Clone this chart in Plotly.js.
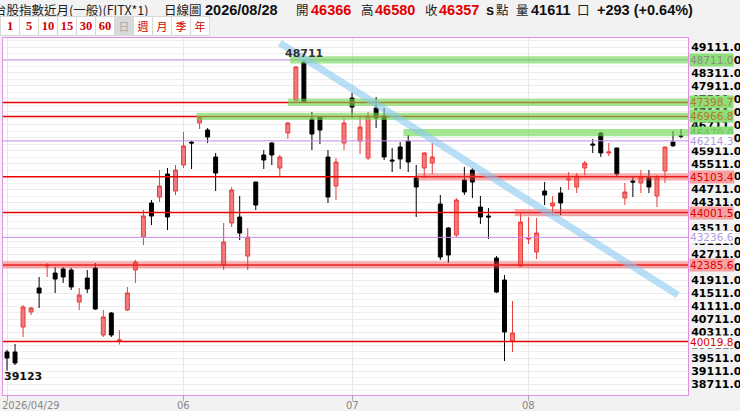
<!DOCTYPE html>
<html>
<head>
<meta charset="utf-8">
<script src="https://cdn.plot.ly/plotly-3.0.1.min.js"></script>
<style>
html,body{margin:0;padding:0;background:#f2f2f2;width:740px;height:411px;overflow:hidden;}
#chart{position:absolute;left:0;top:0;width:740px;height:411px;}
#hdr{position:absolute;left:0;top:0;width:740px;height:36px;z-index:5;pointer-events:none;}
#hdr span{position:absolute;top:1px;line-height:18px;white-space:nowrap;}
.cj{font-family:"Noto Sans CJK TC","Noto Sans";font-size:12.5px;color:#222;}
.nb{font-family:"Liberation Sans",Arial;font-weight:bold;font-size:14.5px;color:#111;}
.rd{color:#e00000 !important;}
.btn{position:absolute;top:16px;height:18px;width:18px;border:1px solid #d8d8d8;background:#fff;color:#d00000;
 font-family:"Liberation Serif","Noto Sans CJK TC";font-weight:bold;font-size:12.5px;line-height:18px;text-align:center;}
.btn.sel{background:#d9d9d9;color:#aaa;font-weight:normal;}
.btn.cjk{font-family:"Noto Sans CJK TC";font-weight:normal;font-size:11px;}
</style>
</head>
<body>
<div id="chart"></div>
<div id="hdr"></div>
<script>
// ---------- data ----------
const dates = [
 '2026/04/29','2026/04/30',
 '2026/05/04','2026/05/05','2026/05/06','2026/05/07','2026/05/08',
 '2026/05/11','2026/05/12','2026/05/13','2026/05/14','2026/05/15',
 '2026/05/18','2026/05/19','2026/05/20','2026/05/21','2026/05/22',
 '2026/05/25','2026/05/26','2026/05/27','2026/05/28','2026/05/29',
 '2026/06/01','2026/06/02','2026/06/03','2026/06/04','2026/06/05',
 '2026/06/08','2026/06/09','2026/06/10','2026/06/11','2026/06/12',
 '2026/06/15','2026/06/16','2026/06/17','2026/06/18',
 '2026/06/22','2026/06/23','2026/06/24','2026/06/25','2026/06/26',
 '2026/06/29','2026/06/30',
 '2026/07/01','2026/07/02','2026/07/03',
 '2026/07/06','2026/07/07','2026/07/08','2026/07/09','2026/07/10',
 '2026/07/13','2026/07/14','2026/07/15','2026/07/16','2026/07/17',
 '2026/07/20','2026/07/21','2026/07/22','2026/07/23','2026/07/24',
 '2026/07/27','2026/07/28','2026/07/29','2026/07/30',
 '2026/08/03','2026/08/04','2026/08/05','2026/08/06','2026/08/07',
 '2026/08/10','2026/08/11','2026/08/12','2026/08/13','2026/08/14',
 '2026/08/17','2026/08/18','2026/08/19','2026/08/20','2026/08/21',
 '2026/08/24','2026/08/25','2026/08/26','2026/08/27','2026/08/28'
];
const open  = [39699,39699,40470,40933,41674,42352,42136,42260,42229,41242,41982,42291,40223,40902,40038,40995,42229,43247,44297,44482,45192,44667,
               45469,46179,46765,46549,45716,42383,43680,43865,42661,44945,45778,46148,45377,46457,47470,48648,46889,46951,45716,44821,46148,
               47537,46210,45685,47229,46981,45624,46025,46210,45068,45377,45531,44266,43525,43309,45006,45315,44173,43895,42599,41920,40038,
               42352,43186,42784,44667,44204,44605,45006,44790,45377,46117,46457,45840,45994,44451,44975,44914,45068,44513,45284,46179,46366];
const high  = [39760,39945,41149,41087,42013,42445,42322,42322,42291,41674,42229,42445,40995,40933,40377,41705,42538,44081,44389,45315,45377,45469,
               46488,46210,46967,46611,45840,43680,44790,44513,43525,44950,45932,46179,45778,46796,48524,48711,47105,46967,45932,45685,46920,
               47691,46951,47105,47568,47229,45994,46179,46395,45469,45871,46148,44544,43556,44451,45408,45377,44513,44143,42661,42075,41272,
               44001,43865,43834,44945,44513,44790,45253,45223,45593,46272,46488,46148,46000,44914,45099,45315,45315,45161,46030,46519,46580];
const low   = [39123,39297,40161,40840,41056,42013,41519,41828,41612,40995,41519,40995,40161,40161,39930,40964,41828,43001,43618,44327,43463,44544,
               45377,45346,46580,46148,44667,42229,43556,43155,42229,44081,45346,45469,45130,46272,47399,47399,45932,46117,44297,44389,45932,
               46920,45809,45624,46611,45624,45253,45346,45253,43865,45068,45192,42538,42445,43216,44544,44451,43649,43186,41519,39421,39699,
               42322,43031,42568,44235,43926,43926,44698,44605,45161,45840,45716,45747,45099,44235,44482,44605,44605,44173,44914,46025,46290];
const close = [39513,39359,41087,41056,41519,42383,41951,42013,41705,41458,41643,41025,40779,40223,40069,41519,42476,43895,43895,44821,43865,45315,
               46056,46148,46930,46333,45222,43093,44698,43371,43247,44235,45624,45778,45716,46765,48493,47413,46426,46549,44482,45562,46765,
               47259,46642,46981,46920,45716,45593,45654,45562,44790,45840,45716,42630,42692,44389,44636,44945,43865,43865,41550,40316,40285,
               43710,43216,43371,44544,44297,44297,45037,45130,45531,46087,45840,45871,45192,44636,44945,45099,44790,45068,46025,46064,46357];

const priceTicks = [38711,39111,39511,39911,40311,40711,41111,41511,41911,42311,42711,43111,43511,43911,44311,44711,45111,45511,45911,46311,46711,47111,47511,47911,48311,48711,49111];
const monthTickDates = ['2026/04/29','2026/06/01','2026/07/01','2026/08/03'];
const monthTickText  = ['2026/04/29','06','07','08'];

// support / resistance levels drawn on the chart
const levelValues = [48711.0, 47398.7, 46966.8, 46470.0, 46214.3, 45103.4, 44001.5, 43236.6, 42385.6, 40019.8];
const levelText   = ['48711.0','47398.7','46966.8','46470.0','46214.3','45103.4','44001.5','43236.6','42385.6','40019.8'];
const levelKind   = ['vg','rg','rg','g','v','rr','rr','v','rr','r'];
const bandFromIdx = [35.27, 35.0, 23.63, 49.4, null, 51.06, 63.3, null, -0.5, null];

const trendFrom = [34.0, 49234];
const trendTo   = [83.6, 41458];

const header = {
  name:'台股指數近月(一般)(FITX*1)', kind:'日線圖', date:'2026/08/28',
  open:'46366', high:'46580', close:'46357', vol:'41611', chg:'+293 (+0.64%)'
};
const periods = ['1','5','10','15','30','60','日','週','月','季','年'];

// ---------- header (toolbar) ----------
const hdr = document.getElementById('hdr');
function span(txt, left, cls){ const s=document.createElement('span'); s.textContent=txt; s.style.left=left+'px'; s.className=cls; hdr.appendChild(s); }
span(header.name,-6,'cj');
span(header.kind,164,'cj');
span(header.date,205,'nb');
span('開',296,'cj'); span(header.open,311,'nb rd');
span('高',361,'cj'); span(header.high,375,'nb rd');
span('收',425,'cj'); span(header.close,439,'nb rd');
span('s',486,'nb'); span('點',496,'cj');
span('量',516,'cj'); span(header.vol,531,'nb');
span('口',577,'cj'); span(header.chg,597,'nb');
periods.forEach((p,i)=>{
  const b=document.createElement('div'); b.className='btn'+(p==='日'?' sel':'')+(/[^0-9]/.test(p)?' cjk':'');
  b.style.left=(i*19)+'px'; b.textContent=p; hdr.appendChild(b);
});

// ---------- chart ----------
const xr0 = -0.5, xr1 = 84.87;
const shapes = [];
const annotations = [];
const GREEN = 'rgba(110,215,80,0.62)';
const REDB  = 'rgba(240,70,70,0.45)';
const halfBand = 112;
levelValues.forEach((v,i)=>{
  const k = levelKind[i];
  if (k.includes('v')) shapes.push({type:'line',xref:'x',yref:'y',x0:xr0,x1:xr1,y0:v,y1:v,line:{color:'#c38ce6',width:1},layer:'above'});
  if (k[0]==='r') shapes.push({type:'line',xref:'x',yref:'y',x0:xr0,x1:xr1,y0:v,y1:v,line:{color:'#e80000',width:1.5},layer:'above'});
  if (k.endsWith('g')) shapes.push({type:'rect',xref:'x',yref:'y',x0:bandFromIdx[i],x1:xr1,y0:v-halfBand,y1:v+halfBand,fillcolor:GREEN,line:{width:0},layer:'above'});
  if (k==='rr') shapes.push({type:'rect',xref:'x',yref:'y',x0:bandFromIdx[i],x1:xr1,y0:v-halfBand,y1:v+halfBand,fillcolor:REDB,line:{width:0},layer:'above'});
  let col, bg;
  if (k==='vg'){col='#8c8c8c';bg='rgb(142,222,122)';}
  else if (k==='rg'){col='#b07a28';bg='rgb(142,222,122)';}
  else if (k==='g'){col='#6cc060';bg='rgb(142,222,122)';}
  else if (k==='v'){col='#b49ae0';bg='#ffffff';}
  else if (k==='rr'){col='#e00000';bg='rgb(246,162,162)';}
  else {col='#e00000';bg='#ffffff';}
  annotations.push({xref:'paper',yref:'y',x:1,y:v,xanchor:'left',yanchor:'middle',xshift:1,text:levelText[i],showarrow:false,
    font:{family:'DejaVu Sans',size:10.5,color:col},bgcolor:bg,borderpad:0});
});
shapes.push({type:'line',xref:'x',yref:'y',x0:trendFrom[0],y0:trendFrom[1],x1:trendTo[0],y1:trendTo[1],
  line:{color:'rgba(135,200,240,0.58)',width:7},layer:'above'});

// high / low markers
let hiI=0, loI=0;
high.forEach((h,i)=>{ if(h>high[hiI]) hiI=i; });
low.forEach((l,i)=>{ if(l<low[loI]) loI=i; });
annotations.push({xref:'x',yref:'y',x:dates[hiI],y:high[hiI],yshift:6,text:String(high[hiI]),showarrow:false,
  font:{family:'DejaVu Sans',size:11,color:'#333',weight:'bold'}});
annotations.push({xref:'x',yref:'y',x:dates[loI],y:low[loI],xanchor:'left',xshift:-5,yshift:-6,text:String(low[loI]),showarrow:false,
  font:{family:'DejaVu Sans',size:11,color:'#111',weight:'bold'}});
// date labels under the month ticks
monthTickDates.forEach((d,i)=>{
  annotations.push({xref:'x',yref:'paper',x:d,y:0,xanchor:i===0?'left':'center',yanchor:'middle',xshift:i===0?-6:0,yshift:-10,
    text:monthTickText[i],showarrow:false,font:{family:'DejaVu Sans',size:10,color:'#888'},borderpad:0});
});

const trace = {
  type:'candlestick', x:dates, open:open, high:high, low:low, close:close,
  increasing:{line:{color:'#e83c3c',width:1},fillcolor:'#f47a7a'},
  decreasing:{line:{color:'#000000',width:1},fillcolor:'#000000'},
  whiskerwidth:0, hoverinfo:'skip', showlegend:false
};

const layout = {
  width:740, height:411,
  margin:{l:3,r:52,t:38,b:16},
  paper_bgcolor:'#f2f2f2', plot_bgcolor:'#ffffff',
  showlegend:false,
  xaxis:{type:'category',range:[xr0,xr1],rangeslider:{visible:false},
    tickmode:'array',tickvals:monthTickDates,ticktext:monthTickDates.map(()=>''),
    ticks:'outside',ticklen:5,tickcolor:'#aaa',tickfont:{family:'DejaVu Sans',size:10,color:'#888'},
    showgrid:true,gridcolor:'#e8e8e8',showline:true,linecolor:'#e28ee2',linewidth:1,mirror:true,zeroline:false,fixedrange:true},
  yaxis:{side:'right',range:[38372,49389],tickmode:'array',tickvals:priceTicks,ticktext:priceTicks.map(v=>v.toFixed(1)),
    ticks:'',tickfont:{family:'DejaVu Sans',size:11,color:'#000',weight:'bold'},
    showgrid:true,gridcolor:'#ececec',
    minor:{tick0:38511,dtick:200,showgrid:true,gridcolor:'#f1f1f1',ticks:''},
    showline:true,linecolor:'#e28ee2',linewidth:1,mirror:true,zeroline:false,fixedrange:true},
  shapes:shapes, annotations:annotations
};
Plotly.newPlot('chart',[trace],layout,{displayModeBar:false,staticPlot:true});
</script>
</body>
</html>
